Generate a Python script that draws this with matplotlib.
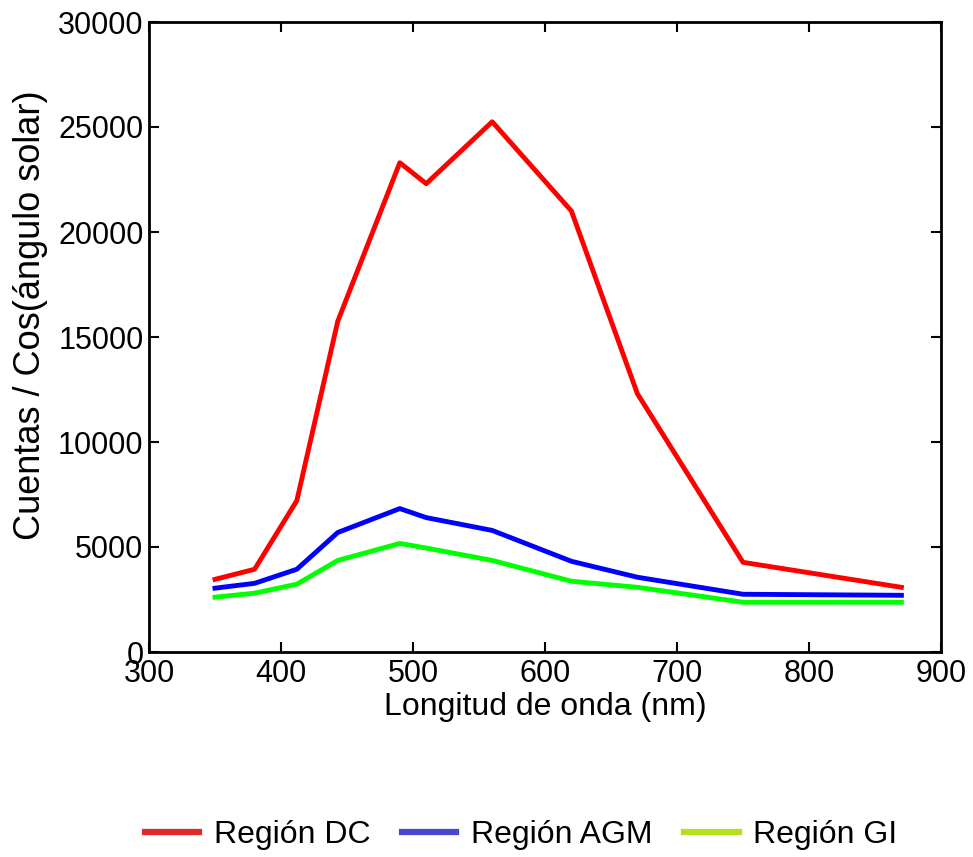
import matplotlib
matplotlib.use("Agg")
import matplotlib.pyplot as plt
from matplotlib.lines import Line2D

plt.rcParams['font.family'] = ['Liberation Sans', 'DejaVu Sans']

longitud = [350, 380, 412, 443, 490, 510, 560, 620, 670, 750, 870]
region_dc = [3460, 3940, 7210, 15750, 23300, 22300, 25250, 21000, 12300, 4270, 3080]
region_agm = [3040, 3270, 3940, 5690, 6830, 6400, 5790, 4320, 3560, 2750, 2700]
region_gi = [2610, 2800, 3230, 4360, 5170, 4950, 4360, 3370, 3080, 2370, 2370]

etiquetas = ['Región DC', 'Región AGM', 'Región GI']

fig = plt.figure(figsize=(9.73, 8.57), dpi=100)
ax = fig.add_axes([149 / 973, 1 - 652 / 857, 792 / 973, 630 / 857])

ax.plot(longitud, region_dc, color='#ff0000', lw=3.5)
ax.plot(longitud, region_agm, color='#0000ff', lw=3.5)
ax.plot(longitud, region_gi, color='#00ff00', lw=3.5)

ax.set_xlim(300, 900)
ax.set_ylim(0, 30000)
ax.set_xticks(range(300, 901, 100))
ax.set_yticks(range(0, 30001, 5000))
ax.tick_params(direction='in', length=7, width=1.5, top=True, right=True, labelsize=22)
ax.tick_params(axis='y', pad=4)
ax.tick_params(axis='x', pad=5)
for s in ax.spines.values():
    s.set_linewidth(2)

ax.set_xlabel('Longitud de onda (nm)', fontsize=23, labelpad=2)
ax.set_ylabel('Cuentas / Cos(ángulo solar)', fontsize=26)
ax.yaxis.set_label_coords(-0.127, 0.535)

# los colores de la leyenda no coinciden exactamente con las lineas
handles = [Line2D([], [], color='#e02a2a', lw=4.5),
           Line2D([], [], color='#4848d0', lw=4.5),
           Line2D([], [], color='#b4e020', lw=4.5)]
fig.legend(handles, etiquetas, loc='center', bbox_to_anchor=(521 / 973, 1 - 835 / 857),
           ncol=3, frameon=False, fontsize=23, handlelength=1.7,
           handletextpad=0.45, columnspacing=1.0)

fig.savefig('out.png', dpi=100)
